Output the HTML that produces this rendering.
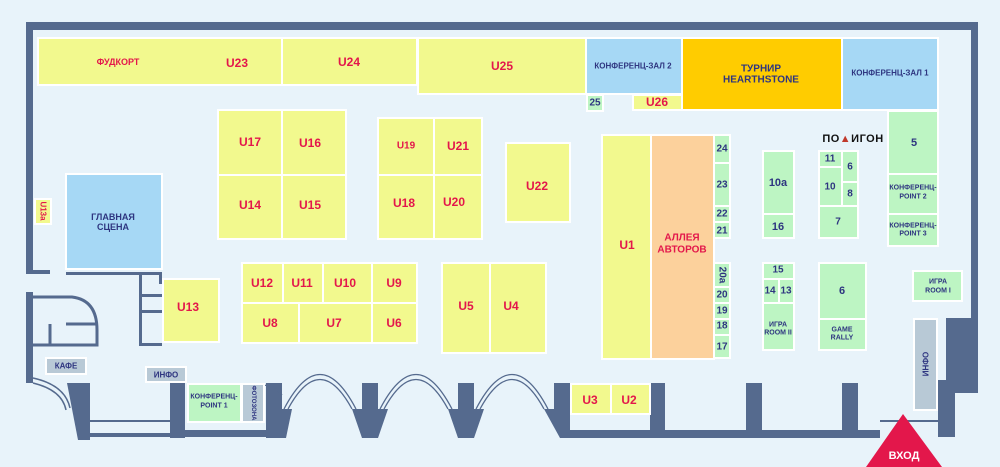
<!DOCTYPE html>
<html><head><meta charset="utf-8"><style>
html,body{margin:0;padding:0;background:#e8f3fa;}
svg{display:block}
text{font-family:"Liberation Sans",sans-serif;font-weight:bold;text-anchor:middle;dominant-baseline:central}
.r{fill:#e3174b;font-size:12px}
.n{fill:#2e3580;font-size:12px}
.s{fill:#2e3580;font-size:8px}
.y{fill:#f2f98e;stroke:#fff;stroke-width:2}
.b{fill:#a6d8f5;stroke:#fff;stroke-width:2}
.g{fill:#bdf5c3;stroke:#fff;stroke-width:2}
.o{fill:#fcd19c;stroke:#fff;stroke-width:2}
.gr{fill:#b8c9d6;stroke:#fff;stroke-width:2}
.w{fill:#556a8e}
.wl{stroke:#556a8e;fill:none}
</style></head><body>
<svg width="1000" height="467" viewBox="0 0 1000 467">
<rect width="1000" height="467" fill="#e8f3fa"/>
<!-- walls -->
<rect class="w" x="26" y="22" width="952" height="8"/>
<rect class="w" x="26" y="22" width="7" height="251"/>
<rect class="w" x="26" y="270" width="24" height="4"/>
<rect class="w" x="26" y="292" width="7" height="91"/>
<rect class="w" x="971" y="22" width="7" height="305"/>
<rect class="w" x="946" y="318" width="32" height="75"/>
<rect class="w" x="938" y="380" width="17" height="57"/>
<rect class="w" x="66" y="272" width="96" height="3"/>
<rect class="w" x="139" y="272" width="3" height="73"/>
<rect class="w" x="159" y="272" width="3" height="12"/>
<rect class="w" x="139" y="294" width="23" height="3"/>
<rect class="w" x="139" y="310" width="23" height="3"/>
<rect class="w" x="139" y="343" width="23" height="3"/>
<path class="wl" stroke-width="3" d="M33 297 H72 Q97 300 97 330 V345 H33 M50 345 V324 M66 324 H97"/>
<!-- bottom left -->
<path class="w" d="M67 383 H90 V440 H78 Z"/>
<rect class="w" x="90" y="433" width="80" height="4"/>
<rect class="w" x="90" y="420" width="80" height="2"/>
<path class="w" d="M170 383 H185 V438 H170 Z"/>
<rect class="w" x="185" y="430" width="97" height="7"/>
<rect class="w" x="266" y="383" width="16" height="55"/>
<path class="wl" stroke-width="1.5" d="M33 378 Q65 385 70 408 M33 383 Q62 390 66 410"/>
<!-- arcs and pillars -->
<path class="w" d="M282 409 H292 L286 438 H282 Z"/>
<path class="w" d="M352 409 H362 V383 H378 V409 H388 L378 438 H362 Z"/>
<path class="w" d="M448 409 H458 V383 H474 V409 H484 L474 438 H458 Z"/>
<path class="w" d="M544 409 H554 V383 H570 V438 H560 Z"/>
<path class="wl" stroke-width="1.3" d="M284 409 Q320 340 356 409 M288 409 Q320 350 352 409 M380 409 Q416 340 452 409 M384 409 Q416 350 448 409 M476 409 Q512 340 548 409 M480 409 Q512 350 544 409 M244 409 Q262 370 282 395"/>
<rect class="w" x="570" y="430" width="310" height="8"/>
<rect class="w" x="650" y="383" width="15" height="55"/>
<rect class="w" x="746" y="383" width="16" height="55"/>
<rect class="w" x="842" y="383" width="16" height="55"/>
<rect class="w" x="880" y="420" width="58" height="2"/>
<!-- top row -->
<rect class="y" x="38" y="38" width="244" height="47"/>
<text class="r" x="118" y="62" style="font-size:9px">ФУДКОРТ</text>
<text class="r" x="237" y="63">U23</text>
<rect class="y" x="282" y="38" width="135" height="47"/><text class="r" x="349" y="62">U24</text>
<rect class="y" x="418" y="38" width="168" height="56"/><text class="r" x="502" y="66">U25</text>
<rect class="b" x="586" y="38" width="96" height="56"/><text class="s" x="633" y="66">КОНФЕРЕНЦ-ЗАЛ 2</text>
<rect class="y" x="682" y="38" width="160" height="72" style="fill:#ffcc00"/>
<text class="n" x="761" y="69" style="font-size:10px">ТУРНИР</text><text class="n" x="761" y="80" style="font-size:10px">HEARTHSTONE</text>
<rect class="b" x="842" y="38" width="96" height="72"/><text class="s" x="890" y="73">КОНФЕРЕНЦ-ЗАЛ 1</text>
<rect class="g" x="587" y="95" width="16" height="16"/><text class="n" x="595" y="103" style="font-size:10px">25</text>
<rect class="y" x="633" y="95" width="49" height="15"/><text class="r" x="657" y="102">U26</text>
<!-- blocks -->
<rect class="y" x="218" y="110" width="64" height="65"/><text class="r" x="250" y="142">U17</text>
<rect class="y" x="282" y="110" width="64" height="65"/><text class="r" x="310" y="143">U16</text>
<rect class="y" x="218" y="175" width="64" height="64"/><text class="r" x="250" y="205">U14</text>
<rect class="y" x="282" y="175" width="64" height="64"/><text class="r" x="310" y="205">U15</text>
<rect class="y" x="378" y="118" width="56" height="57"/><text class="r" x="406" y="146" style="font-size:10px">U19</text>
<rect class="y" x="434" y="118" width="48" height="57"/><text class="r" x="458" y="146">U21</text>
<rect class="y" x="378" y="175" width="56" height="64"/><text class="r" x="404" y="203">U18</text>
<rect class="y" x="434" y="175" width="48" height="64"/><text class="r" x="454" y="202">U20</text>
<rect class="y" x="506" y="143" width="64" height="79"/><text class="r" x="537" y="186">U22</text>
<rect class="y" x="602" y="135" width="49" height="224"/><text class="r" x="627" y="245">U1</text>
<rect class="o" x="651" y="135" width="63" height="224"/>
<text class="r" x="682" y="238" style="font-size:10px">АЛЛЕЯ</text><text class="r" x="682" y="250" style="font-size:10px">АВТОРОВ</text>
<g>
<rect class="g" x="714" y="135" width="16" height="28"/><text class="n" x="722" y="149" style="font-size:10px">24</text>
<rect class="g" x="714" y="163" width="16" height="43"/><text class="n" x="722" y="185" style="font-size:10px">23</text>
<rect class="g" x="714" y="206" width="16" height="16"/><text class="n" x="722" y="214" style="font-size:10px">22</text>
<rect class="g" x="714" y="222" width="16" height="16"/><text class="n" x="722" y="231" style="font-size:10px">21</text>
<rect class="g" x="714" y="263" width="16" height="24"/><text class="n" x="722" y="275" style="font-size:10px" transform="rotate(90 722 275)">20a</text>
<rect class="g" x="714" y="287" width="16" height="16"/><text class="n" x="722" y="295" style="font-size:10px">20</text>
<rect class="g" x="714" y="303" width="16" height="16"/><text class="n" x="722" y="311" style="font-size:10px">19</text>
<rect class="g" x="714" y="319" width="16" height="16"/><text class="n" x="722" y="326" style="font-size:10px">18</text>
<rect class="g" x="714" y="335" width="16" height="23"/><text class="n" x="722" y="347" style="font-size:10px">17</text>
</g>
<rect class="g" x="763" y="151" width="31" height="63"/><text class="n" x="778" y="183" style="font-size:11px">10a</text>
<rect class="g" x="763" y="214" width="31" height="24"/><text class="n" x="778" y="227" style="font-size:11px">16</text>
<rect class="g" x="819" y="151" width="23" height="16"/><text class="n" x="830" y="159" style="font-size:10px">11</text>
<rect class="g" x="842" y="151" width="16" height="31"/><text class="n" x="850" y="167" style="font-size:10px">6</text>
<rect class="g" x="819" y="167" width="23" height="39"/><text class="n" x="830" y="187" style="font-size:10px">10</text>
<rect class="g" x="842" y="182" width="16" height="24"/><text class="n" x="850" y="194" style="font-size:10px">8</text>
<rect class="g" x="819" y="206" width="39" height="32"/><text class="n" x="838" y="222" style="font-size:10px">7</text>
<text x="853" y="139" style="fill:#111;font-size:11px;letter-spacing:0.5px">ПО<tspan fill="#c0392b">▲</tspan>ИГОН</text>
<rect class="g" x="888" y="111" width="50" height="63"/><text class="n" x="914" y="143" style="font-size:11px">5</text>
<rect class="g" x="888" y="174" width="50" height="40"/><text class="s" x="913" y="188" style="font-size:7px">КОНФЕРЕНЦ-</text><text class="s" x="913" y="197" style="font-size:7px">POINT 2</text>
<rect class="g" x="888" y="214" width="50" height="32"/><text class="s" x="913" y="226" style="font-size:7px">КОНФЕРЕНЦ-</text><text class="s" x="913" y="234" style="font-size:7px">POINT 3</text>
<rect class="g" x="763" y="263" width="31" height="16"/><text class="n" x="778" y="270" style="font-size:10px">15</text>
<rect class="g" x="763" y="279" width="16" height="24"/><text class="n" x="770" y="291" style="font-size:10px">14</text>
<rect class="g" x="779" y="279" width="15" height="24"/><text class="n" x="786" y="291" style="font-size:10px">13</text>
<rect class="g" x="763" y="303" width="31" height="47"/><text class="s" x="778" y="325" style="font-size:7px">ИГРА</text><text class="s" x="778" y="333" style="font-size:7px">ROOM II</text>
<rect class="g" x="819" y="263" width="47" height="56"/><text class="n" x="842" y="291" style="font-size:11px">6</text>
<rect class="g" x="819" y="319" width="47" height="31"/><text class="s" x="842" y="330" style="font-size:7px">GAME</text><text class="s" x="842" y="338" style="font-size:7px">RALLY</text>
<rect class="g" x="913" y="271" width="49" height="30"/><text class="s" x="938" y="282" style="font-size:7px">ИГРА</text><text class="s" x="938" y="291" style="font-size:7px">ROOM I</text>
<rect class="gr" x="914" y="319" width="23" height="91"/><text class="s" x="925" y="364" transform="rotate(90 925 364)">ОФНИ</text>
<!-- lower left blocks -->
<rect class="y" x="242" y="263" width="41" height="40"/><text class="r" x="262" y="283">U12</text>
<rect class="y" x="283" y="263" width="40" height="40"/><text class="r" x="302" y="283">U11</text>
<rect class="y" x="323" y="263" width="49" height="40"/><text class="r" x="345" y="283">U10</text>
<rect class="y" x="372" y="263" width="45" height="40"/><text class="r" x="394" y="283">U9</text>
<rect class="y" x="242" y="303" width="57" height="40"/><text class="r" x="270" y="323">U8</text>
<rect class="y" x="299" y="303" width="73" height="40"/><text class="r" x="334" y="323">U7</text>
<rect class="y" x="372" y="303" width="45" height="40"/><text class="r" x="394" y="323">U6</text>
<rect class="y" x="442" y="263" width="48" height="90"/><text class="r" x="466" y="306">U5</text>
<rect class="y" x="490" y="263" width="56" height="90"/><text class="r" x="511" y="306">U4</text>
<rect class="y" x="163" y="279" width="56" height="63"/><text class="r" x="188" y="307">U13</text>
<rect class="b" x="66" y="174" width="96" height="95"/>
<text class="s" x="113" y="217" style="font-size:9px">ГЛАВНАЯ</text><text class="s" x="113" y="227" style="font-size:9px">СЦЕНА</text>
<rect class="y" x="35" y="199" width="16" height="25"/><text class="r" x="43" y="211" style="font-size:8px" transform="rotate(90 43 211)">U13a</text>
<rect class="gr" x="46" y="358" width="40" height="16"/><text class="s" x="66" y="366">КАФЕ</text>
<rect class="gr" x="146" y="367" width="40" height="15"/><text class="s" x="166" y="375">ИНФО</text>
<rect class="g" x="188" y="384" width="53" height="38"/><text class="s" x="214" y="397" style="font-size:7px">КОНФЕРЕНЦ-</text><text class="s" x="214" y="406" style="font-size:7px">POINT 1</text>
<rect class="gr" x="242" y="384" width="22" height="38"/><text class="s" x="253" y="403" style="font-size:6px" transform="rotate(90 253 403)">ФОТОЗОНА</text>
<rect class="y" x="571" y="384" width="40" height="30"/><text class="r" x="590" y="400">U3</text>
<rect class="y" x="611" y="384" width="39" height="30"/><text class="r" x="629" y="400">U2</text>
<!-- entrance -->
<polygon points="903,414 866,467 942,467" fill="#e3174b"/>
<text x="904" y="456" style="fill:#fff;font-size:11px">ВХОД</text>
</svg>
</body></html>
